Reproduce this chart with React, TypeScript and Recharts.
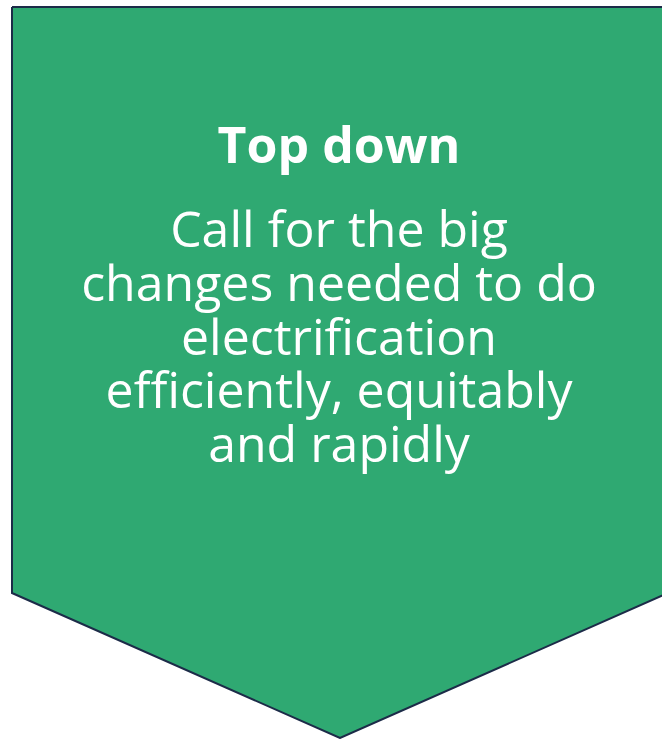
import { ComposedChart, Area, Line, XAxis, YAxis } from 'recharts';

// shape outline in page pixels (x across, y down)
const shapeX = [12, 340, 668];
const shapeTop = [7, 7, 7];
const shapeBottom = [593, 738, 593];

const outlineX = [12, 668, 668, 340, 12, 12];
const outlineY = [7, 7, 593, 738, 593, 7];

const title = 'Top down';
const bodyLines = [
  'Call for the big',
  'changes needed to do',
  'electrification',
  'efficiently, equitably',
  'and rapidly',
];

const fillData = shapeX.map((x, i) => ({ x, range: [shapeTop[i], shapeBottom[i]] }));
const outlineData = outlineX.map((x, i) => ({ x, y: outlineY[i] }));

const font = '"Open Sans", "Noto Sans", sans-serif';

export default function App() {
  return (
    <div style={{ position: 'absolute', left: 0, top: 0, width: 662, height: 739, background: '#fff' }}>
      <ComposedChart width={662} height={739} data={fillData} margin={{ top: 0, right: 0, bottom: 0, left: 0 }}>
        <XAxis dataKey="x" type="number" domain={[0, 662]} hide allowDataOverflow />
        <YAxis type="number" domain={[0, 739]} reversed hide allowDataOverflow />
        <Area
          dataKey="range"
          type="linear"
          fill="#2fa972"
          fillOpacity={1}
          stroke="none"
          dot={false}
          activeDot={false}
          isAnimationActive={false}
        />
        <Line
          data={outlineData}
          dataKey="y"
          type="linear"
          stroke="#1c2b48"
          strokeWidth={2}
          dot={false}
          activeDot={false}
          isAnimationActive={false}
        />
      </ComposedChart>
      {/* text laid over the shape */}
      <svg
        width={662}
        height={739}
        style={{ position: 'absolute', left: 0, top: 0, pointerEvents: 'none' }}
      >
        <g fontFamily={font} fill="#ffffff" textAnchor="middle">
          <text x={339} y={163} fontSize={50} fontWeight={700}>
            {title}
          </text>
          {bodyLines.map((line, i) => (
            <text key={line} x={339} y={247 + i * 53.8} fontSize={50} fontWeight={400}>
              {line}
            </text>
          ))}
        </g>
      </svg>
    </div>
  );
}
